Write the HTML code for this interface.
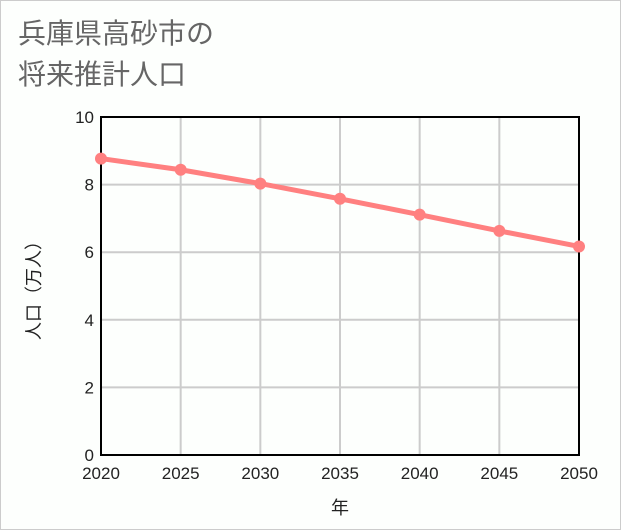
<!DOCTYPE html>
<html><head><meta charset="utf-8"><style>
body{margin:0;background:#fff;}
svg{display:block;font-family:"Liberation Sans","Noto Sans CJK JP",sans-serif;}
</style></head><body>
<svg id="c" width="621" height="530" viewBox="0 0 621 530">
<rect x="0.5" y="0.5" width="620" height="529" fill="#fdfffd" stroke="#ccc"/>
<text x="18" y="43" font-size="28" fill="#666">兵庫県高砂市の</text>
<text x="18" y="84" font-size="28" fill="#666">将来推計人口</text>
<g id="grid"></g>
<g id="axes"></g>
<g id="series"></g>
<text x="40" y="286" font-size="18" fill="#222" text-anchor="middle" transform="rotate(-90 40 286)">人口（万人）</text>
<text x="340" y="514" font-size="18" fill="#222" text-anchor="middle">年</text>
</svg>
<script>
const years=[2020,2025,2030,2035,2040,2045,2050];
const population=[8.77,8.44,8.03,7.58,7.11,6.63,6.17];
const yTicks=[0,2,4,6,8,10];
const NS="http://www.w3.org/2000/svg";
const L=101,R=579,T=117,B=455;
const xs=v=>L+(v-2020)/(2050-2020)*(R-L);
const ys=v=>B-v/10*(B-T);
function mk(tag,attrs,parent){const e=document.createElementNS(NS,tag);for(const k in attrs)e.setAttribute(k,attrs[k]);parent.appendChild(e);return e;}
const grid=document.getElementById('grid'),axes=document.getElementById('axes'),series=document.getElementById('series');
years.forEach(y=>{
  const l=mk('line',{x1:xs(y),x2:xs(y),y1:T,y2:B,stroke:'#ccc','stroke-width':2},grid);
  
  
  const t=mk('text',{x:xs(y),y:B+24,'font-size':17,fill:'#222','text-anchor':'middle'},axes);
  t.textContent=y;
  
  
});
yTicks.forEach(v=>{
  const l=mk('line',{x1:L,x2:R,y1:ys(v),y2:ys(v),stroke:'#ccc','stroke-width':2},grid);
  
  
  const t=mk('text',{x:L-7,y:ys(v)+6,'font-size':17,fill:'#222','text-anchor':'end'},axes);
  t.textContent=v;
  
  
});
const box=mk('rect',{x:L,y:T,width:R-L,height:B-T,fill:'none',stroke:'#000','stroke-width':2},axes);


const pts=years.map((y,i)=>xs(y)+','+ys(population[i])).join(' ');
const pl=mk('polyline',{points:pts,fill:'none',stroke:'#ff8080','stroke-width':5},series);


years.forEach((y,i)=>{
  const c=mk('circle',{cx:xs(y),cy:ys(population[i]),r:6,fill:'#ff8080'},series);
  
  
});
</script>
</body></html>
